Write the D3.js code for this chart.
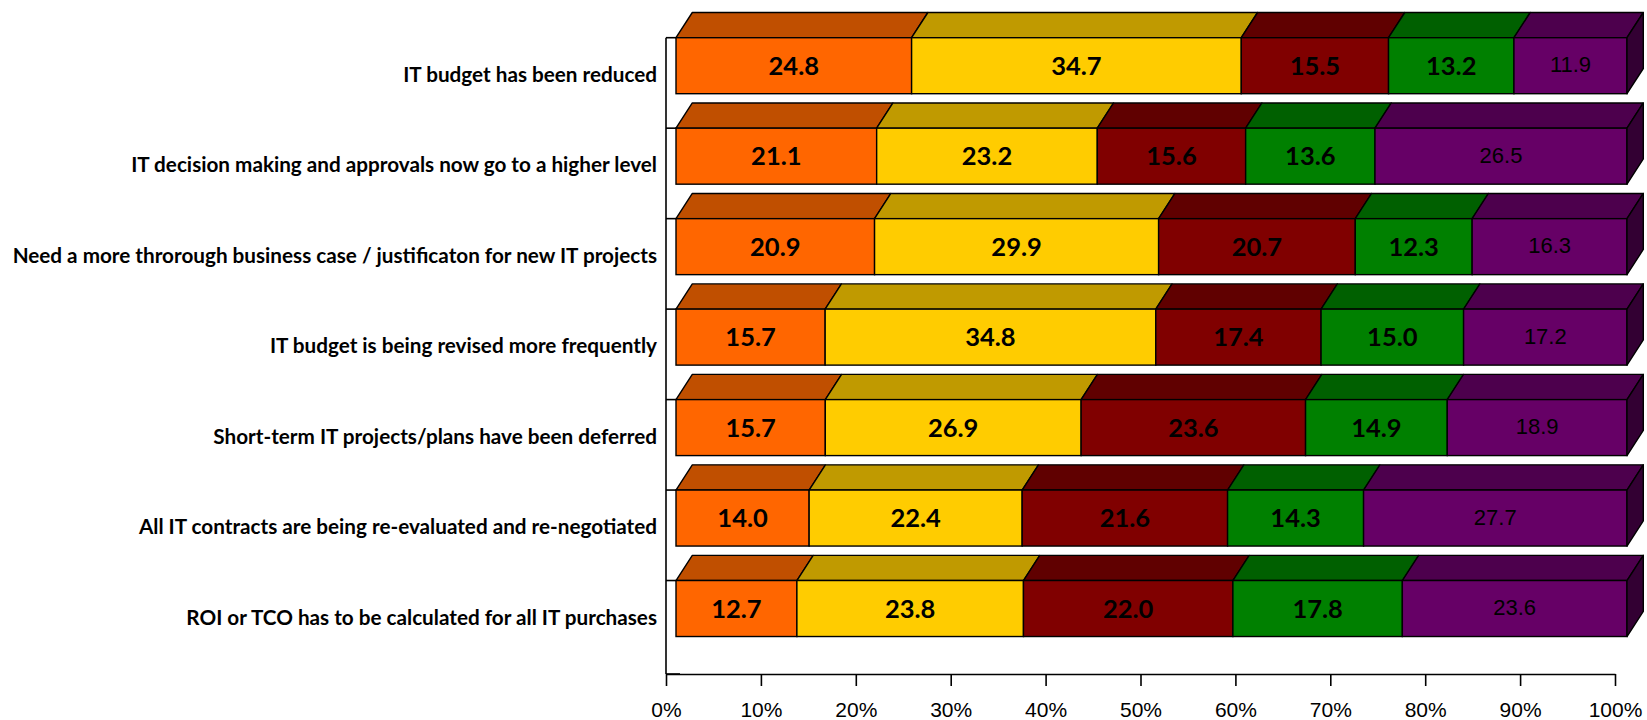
<!DOCTYPE html>
<html><head><meta charset="utf-8">
<script src="https://cdn.jsdelivr.net/npm/d3@7"></script>
<style>html,body{margin:0;padding:0;background:#fff;}svg{display:block;}</style>
</head><body>
<svg id="chart" width="1647" height="720"></svg>
<script>
const categories = [
  "IT budget has been reduced",
  "IT decision making and approvals now go to a higher level",
  "Need a more throrough business case / justificaton for new IT projects",
  "IT budget is being revised more frequently",
  "Short-term IT projects/plans have been deferred",
  "All IT contracts are being re-evaluated and re-negotiated",
  "ROI or TCO has to be calculated for all IT purchases"
];
const series1 = [24.8, 21.1, 20.9, 15.7, 15.7, 14.0, 12.7];
const series2 = [34.7, 23.2, 29.9, 34.8, 26.9, 22.4, 23.8];
const series3 = [15.5, 15.6, 20.7, 17.4, 23.6, 21.6, 22.0];
const series4 = [13.2, 13.6, 12.3, 15.0, 14.9, 14.3, 17.8];
const series5 = [11.9, 26.5, 16.3, 17.2, 18.9, 27.7, 23.6];
const tickValues = [0, 0.1, 0.2, 0.3, 0.4, 0.5, 0.6, 0.7, 0.8, 0.9, 1.0];

const allSeries = [series1, series2, series3, series4, series5];
const frontColors = ["#FF6600", "#FFCC00", "#800000", "#008000", "#660066"];
const topColors   = ["#C04F00", "#C09A00", "#600000", "#006000", "#4D004D"];
const sideColor = "#330033";

const svg = d3.select("#chart");

// geometry
const DX = 16.3, DY = 25.2, BAR_H = 56;
const yBand = d3.scaleBand().domain(categories).range([37.7, 671]).paddingInner(0).paddingOuter(0);
const xBar = d3.scaleLinear().domain([0, 100]).range([676, 1627]);
const xAxisScale = d3.scaleLinear().domain([0, 1]).range([666, 1615]);
const axisY = 674;

// stacked data (100% normalised)
const rows = categories.map((c, i) => {
  const vals = allSeries.map(s => s[i]);
  const total = d3.sum(vals);
  let acc = 0;
  const segs = vals.map((v, k) => {
    const x0 = acc / total * 100; acc += v; const x1 = acc / total * 100;
    return {k, v, x0, x1};
  });
  return {c, segs};
});

// axes
const gAxis = svg.append("g");
gAxis.append("line").attr("x1", xAxisScale(0)).attr("x2", xAxisScale(0))
  .attr("y1", yBand(categories[0])).attr("y2", axisY).attr("stroke", "#000").attr("stroke-width", 1.6);
categories.forEach(c => {
  gAxis.append("line").attr("x1", xAxisScale(0)).attr("x2", xAxisScale(0) + 14)
    .attr("y1", yBand(c)).attr("y2", yBand(c)).attr("stroke", "#000").attr("stroke-width", 1.6);
});
gAxis.append("line").attr("x1", xAxisScale(0)).attr("x2", xAxisScale(0) + 14)
  .attr("y1", axisY).attr("y2", axisY).attr("stroke", "#000").attr("stroke-width", 1.6);

const xAxis = d3.axisBottom(xAxisScale).tickValues(tickValues).tickFormat(d3.format(".0%"))
  .tickSize(12).tickSizeOuter(0);
const gx = svg.append("g").attr("transform", `translate(0,${axisY})`).call(xAxis);
gx.select(".domain").attr("stroke", "#000").attr("stroke-width", 1.6);
gx.selectAll(".tick line").attr("stroke", "#000").attr("stroke-width", 1.6);
gx.selectAll(".tick text").attr("font-family", "Liberation Sans, Arial, sans-serif")
  .attr("font-size", 21).attr("fill", "#000").attr("dy", null).attr("y", 42.5);

// bars
const gBars = svg.append("g");
rows.forEach(r => {
  const top = yBand(r.c);
  const g = gBars.append("g");
  r.segs.forEach(s => {
    const a = xBar(s.x0), b = xBar(s.x1);
    // top face
    g.append("path")
      .attr("d", `M${a},${top}L${a + DX},${top - DY}L${b + DX},${top - DY}L${b},${top}Z`)
      .attr("fill", topColors[s.k]).attr("stroke", "#000").attr("stroke-width", 1.4).attr("stroke-linejoin", "round");
    // front face
    g.append("rect").attr("x", a).attr("y", top).attr("width", b - a).attr("height", BAR_H)
      .attr("fill", frontColors[s.k]).attr("stroke", "#000").attr("stroke-width", 1.4);
  });
  // side face
  const e = xBar(100);
  g.append("path")
    .attr("d", `M${e},${top}L${e + DX},${top - DY}L${e + DX},${top - DY + BAR_H}L${e},${top + BAR_H}Z`)
    .attr("fill", sideColor).attr("stroke", "#000").attr("stroke-width", 1.4).attr("stroke-linejoin", "round");
  // value labels
  r.segs.forEach(s => {
    const cx = (xBar(s.x0) + xBar(s.x1)) / 2;
    const last = s.k === 4;
    g.append("text").attr("x", cx).attr("y", top + (last ? 34.5 : 37))
      .attr("text-anchor", "middle")
      .attr("font-family", last ? "Liberation Sans, Arial, sans-serif" : "Lato, Carlito, sans-serif")
      .attr("font-weight", last ? "normal" : "bold")
      .attr("font-size", last ? 22 : 25.5)
      .attr("fill", "#000")
      .text(s.v.toFixed(1));
  });
});

// category labels
svg.append("g").selectAll("text").data(categories).join("text")
  .attr("x", 657).attr("y", d => yBand(d) + 44)
  .attr("text-anchor", "end")
  .attr("font-family", "Lato, Carlito, sans-serif")
  .attr("font-weight", "bold").attr("font-size", 20.7).attr("fill", "#000")
  .text(d => d);
</script>
</body></html>
